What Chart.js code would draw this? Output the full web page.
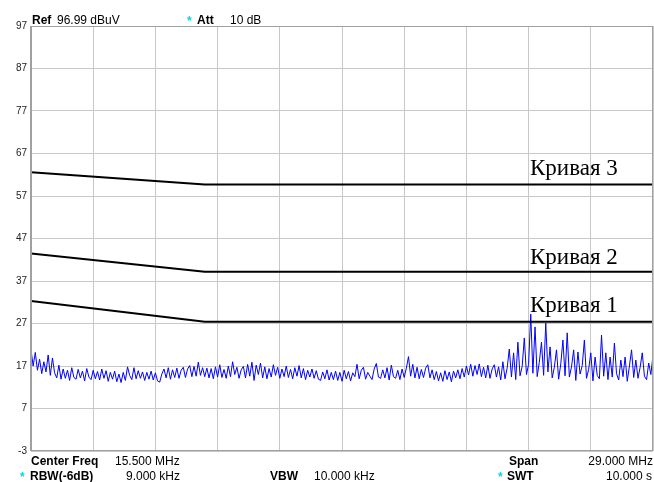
<!DOCTYPE html>
<html>
<head>
<meta charset="utf-8">
<script src="https://cdn.jsdelivr.net/npm/chart.js@4/dist/chart.umd.min.js"></script>
<style>
  html, body { margin: 0; padding: 0; background: #fff; }
  canvas { display: block; }
</style>
</head>
<body>
<canvas id="spectrum" width="654" height="482"></canvas>
<script>
// frequency axis, MHz (center 15.5, span 29)
const freqStart = 1
const freqStep = 0.1
const xGrid = [1, 3.9, 6.8, 9.7, 12.6, 15.5, 18.4, 21.3, 24.2, 27.1, 30]

// level axis, dBuV
const yGrid = [-3, 7, 17, 27, 37, 47, 57, 67, 77, 87, 97]

// limit lines
const limitFreqs = [1, 9.1, 30]
const curve1 = [32.3, 27.4, 27.4]
const curve2 = [43.5, 39.2, 39.2]
const curve3 = [62.6, 59.7, 59.7]
const curveNames = ['Кривая 1', 'Кривая 2', 'Кривая 3']

// measured trace, one value per 0.1 MHz from 1 MHz
const trace = [
  20.8, 17.0, 20.2, 16.0, 18.6, 15.2, 18.0, 15.6, 19.6, 14.8, 18.9,
  15.4, 14.2, 17.2, 13.9, 16.3, 14.1, 16.0, 13.6, 16.6, 14.3,
  13.9, 16.2, 14.2, 15.8, 13.5, 16.4, 14.4, 13.8, 16.0, 14.0,
  15.7, 13.7, 16.3, 14.1, 15.9, 13.4, 15.5, 13.9, 15.8, 13.3,
  15.1, 13.1, 15.5, 13.6, 16.8, 14.8, 13.8, 16.6, 14.0, 15.9,
  14.1, 15.6, 13.6, 15.5, 13.9, 15.8, 13.7, 15.4, 13.5, 13.2,
  15.1, 16.3, 14.2, 16.6, 13.9, 16.1, 14.3, 16.5, 14.1, 16.0,
  16.7, 14.3, 16.3, 17.1, 14.5, 16.9, 14.6, 17.9, 14.8, 16.6,
  14.5, 16.5, 14.2, 16.4, 14.0, 16.8, 14.4, 17.3, 14.3, 16.2,
  14.1, 17.0, 14.5, 18.0, 15.0, 16.7, 14.1, 16.1, 16.9, 14.2,
  17.4, 14.6, 17.9, 13.6, 17.2, 15.0, 17.7, 14.2, 16.8, 14.0,
  16.4, 14.4, 17.3, 14.8, 16.7, 14.1, 16.3, 14.5, 17.0, 14.3,
  16.2, 14.0, 16.6, 14.6, 17.1, 14.2, 16.4, 13.8, 16.0, 14.4,
  16.3, 14.1, 15.9, 13.9, 13.6, 15.6, 14.0, 16.1, 13.7, 15.5,
  13.8, 15.8, 13.6, 15.5, 13.4, 16.0, 14.0, 15.7, 13.5, 15.4,
  14.5, 17.4, 14.0, 16.0, 16.7, 13.9, 15.5, 14.6, 13.8, 16.3,
  17.6, 14.4, 14.1, 16.1, 14.2, 16.6, 13.7, 17.2, 14.5, 14.1,
  16.0, 13.8, 16.3, 14.3, 16.5, 19.2, 14.6, 17.4, 14.2, 16.7,
  14.0, 16.2, 14.3, 16.5, 17.3, 14.2, 16.1, 13.8, 15.7, 13.5,
  15.4, 13.4, 15.9, 13.8, 15.6, 13.3, 15.8, 14.2, 16.1, 14.0,
  16.4, 14.4, 17.0, 14.9, 17.4, 14.6, 17.1, 15.0, 17.5, 14.5,
  16.7, 14.2, 17.2, 14.1, 16.3, 17.3, 14.4, 16.8, 13.7, 18.0,
  14.0, 16.5, 21.0, 14.4, 20.1, 13.8, 22.6, 14.7, 16.9, 23.6,
  15.0, 17.4, 29.2, 15.3, 26.2, 14.5, 17.9, 22.6, 14.8, 27.1,
  15.6, 21.5, 14.2, 16.7, 20.8, 13.9, 17.5, 23.1, 14.7, 24.8,
  14.4, 16.8, 20.8, 13.6, 20.3, 15.1, 17.1, 23.1, 14.1, 16.2,
  20.1, 13.5, 19.1, 14.8, 14.0, 24.3, 14.6, 20.1, 13.8, 19.1,
  14.4, 22.4, 15.2, 13.7, 18.4, 14.5, 19.1, 13.4, 17.0, 20.8,
  14.3, 18.4, 14.1, 16.7, 20.1, 14.6, 13.8, 17.7, 15.0, 19.5,
]

const sansFont = '"Liberation Sans", Arial, sans-serif'
const serifFont = '"Liberation Serif", "Times New Roman", serif'
const starColor = '#00d8e8'

const toPoints = (xs, ys) => ys.map((y, i) => ({ x: xs[i], y }))

const tracePoints = trace.map((y, i) => ({ x: freqStart + freqStep * i, y }))

// header / footer like the analyzer screen
const annotations = {
  id: 'annotations',
  afterDatasetsDraw(chart) {
    const { ctx, chartArea, scales } = chart
    ctx.save()
    ctx.fillStyle = '#000'
    ctx.textBaseline = 'alphabetic'

    // curve labels
    ctx.font = '23px ' + serifFont
    ctx.textAlign = 'left'
    const labelX = 530
    ctx.fillText(curveNames[2], labelX, scales.y.getPixelForValue(curve3[2]) - 10)
    ctx.fillText(curveNames[1], labelX, scales.y.getPixelForValue(curve2[2]) - 8)
    ctx.fillText(curveNames[0], labelX, scales.y.getPixelForValue(curve1[2]) - 10)

    // frame
    ctx.strokeStyle = '#a0a0a0'
    ctx.lineWidth = 1
    ctx.strokeRect(chartArea.left + 0.5, chartArea.top + 0.5,
      chartArea.right - chartArea.left - 1, chartArea.bottom - chartArea.top - 1)
    ctx.lineWidth = 2
    ctx.beginPath()
    ctx.moveTo(chartArea.left, chartArea.top)
    ctx.lineTo(chartArea.left, chartArea.bottom)
    ctx.stroke()

    const text = (s, x, y, bold, align = 'left', color = '#000') => {
      ctx.font = (bold ? 'bold ' : '') + '12px ' + sansFont
      ctx.textAlign = align
      ctx.fillStyle = color
      ctx.fillText(s, x, y)
    }

    // top line
    text('Ref', 32, 24, true)
    text('96.99 dBuV', 57, 24, false)
    text('*', 187, 25, true, 'left', starColor)
    text('Att', 197, 24, true)
    text('10 dB', 230, 24, false)

    // bottom lines
    text('Center Freq', 31, 465, true)
    text('15.500 MHz', 115, 465, false)
    text('Span', 509, 465, true)
    text('29.000 MHz', 653, 465, false, 'right')

    text('*', 20, 481, true, 'left', starColor)
    text('RBW(-6dB)', 30, 480, true)
    text('9.000 kHz', 126, 480, false)
    text('VBW', 270, 480, true)
    text('10.000 kHz', 314, 480, false)
    text('*', 498, 481, true, 'left', starColor)
    text('SWT', 507, 480, true)
    text('10.000 s', 652, 480, false, 'right')
    ctx.restore()
  },
}

const ctx = document.getElementById('spectrum').getContext('2d')

new Chart(ctx, {
  type: 'line',
  data: {
    datasets: [
      {
        data: toPoints(limitFreqs, curve3),
        borderColor: '#000',
        borderWidth: 2,
      },
      {
        data: toPoints(limitFreqs, curve2),
        borderColor: '#000',
        borderWidth: 2,
      },
      {
        data: toPoints(limitFreqs, curve1),
        borderColor: '#000',
        borderWidth: 2,
      },
      {
        data: tracePoints,
        borderColor: '#0000ff',
        borderWidth: 1,
      },
    ],
  },
  options: {
    responsive: false,
    animation: false,
    events: [],
    layout: { padding: { top: 26, bottom: 31, left: 0, right: 1 } },
    elements: {
      point: { radius: 0 },
      line: { tension: 0 },
    },
    plugins: {
      legend: { display: false },
      tooltip: { enabled: false },
    },
    scales: {
      x: {
        type: 'linear',
        min: xGrid[0],
        max: xGrid[xGrid.length - 1],
        afterBuildTicks: (scale) => {
          scale.ticks = xGrid.map((value) => ({ value }))
        },
        afterFit: (scale) => {
          scale.height = 0
        },
        ticks: { display: false },
        grid: { color: '#c8c8c8', lineWidth: 1, tickLength: 0 },
        border: { display: false },
      },
      y: {
        min: yGrid[0],
        max: yGrid[yGrid.length - 1],
        afterBuildTicks: (scale) => {
          scale.ticks = yGrid.map((value) => ({ value }))
        },
        afterFit: (scale) => {
          scale.width = 31
        },
        ticks: {
          color: '#222',
          padding: 4,
          autoSkip: false,
          font: { family: sansFont, size: 10 },
        },
        grid: { color: '#c8c8c8', lineWidth: 1, tickLength: 0 },
        border: { display: false },
      },
    },
  },
  plugins: [annotations],
})
</script>
</body>
</html>
